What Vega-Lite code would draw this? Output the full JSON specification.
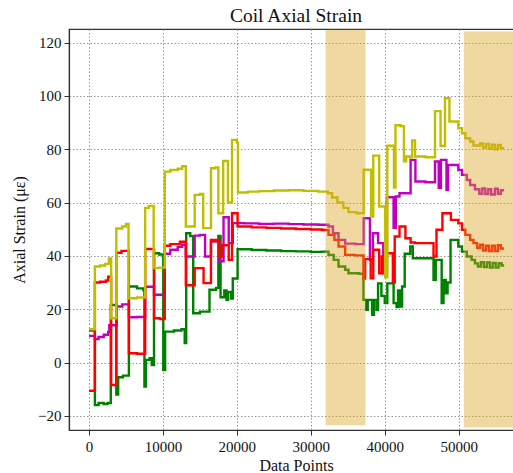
{
  "$schema": "https://vega.github.io/schema/vega-lite/v6.json",
  "autosize": {"type": "none"},
  "padding": {"left": 69, "top": 29, "right": -10, "bottom": 43},
  "width": 454,
  "height": 401,
  "background": "white",
  "title": {"text": "Coil Axial Strain", "font": "Liberation Serif", "fontSize": 19.5, "fontWeight": "normal", "color": "#111", "offset": 3},
  "config": {
    "view": {"stroke": "#333", "strokeWidth": 1.2},
    "axis": {
      "labelFont": "Liberation Serif", "labelFontSize": 15, "labelColor": "#111",
      "titleFont": "Liberation Serif", "titleFontSize": 16, "titleFontWeight": "normal", "titleColor": "#111",
      "domainColor": "#333", "domainWidth": 1.2, "tickColor": "#333", "tickSize": 5, "tickWidth": 1,
      "gridColor": "#8c8c8c", "gridDash": [1.5, 2], "gridWidth": 0.9
    }
  },
  "datasets": {
    "strain": [
      {"s": "G", "x": 0, "y": 12.0}, {"s": "G", "x": 800, "y": -15.9}, {"s": "G", "x": 1300, "y": -15.2}, {"s": "G", "x": 2000, "y": -15.6}, {"s": "G", "x": 2500, "y": -15.2},
      {"s": "G", "x": 2950, "y": 21.6}, {"s": "G", "x": 3700, "y": -12.0}, {"s": "G", "x": 3950, "y": -5.5}, {"s": "G", "x": 4600, "y": -4.9}, {"s": "G", "x": 5400, "y": 28.5},
      {"s": "G", "x": 6500, "y": 27.8}, {"s": "G", "x": 7350, "y": 27.2}, {"s": "G", "x": 7500, "y": -9.0}, {"s": "G", "x": 7700, "y": 1.0}, {"s": "G", "x": 8200, "y": 1.6},
      {"s": "G", "x": 8500, "y": -0.9}, {"s": "G", "x": 8800, "y": 41.0}, {"s": "G", "x": 9500, "y": 40.5}, {"s": "G", "x": 10050, "y": -2.8}, {"s": "G", "x": 10300, "y": 11.6},
      {"s": "G", "x": 11500, "y": 12.0}, {"s": "G", "x": 12500, "y": 12.5}, {"s": "G", "x": 12950, "y": 7.3}, {"s": "G", "x": 13150, "y": 48.5}, {"s": "G", "x": 13700, "y": 47.4},
      {"s": "G", "x": 14100, "y": 18.5}, {"s": "G", "x": 15000, "y": 19.1}, {"s": "G", "x": 16300, "y": 27.3}, {"s": "G", "x": 17200, "y": 28.0}, {"s": "G", "x": 17500, "y": 47.5},
      {"s": "G", "x": 17800, "y": 24.5}, {"s": "G", "x": 18300, "y": 27.0}, {"s": "G", "x": 18600, "y": 23.5}, {"s": "G", "x": 18800, "y": 26.5}, {"s": "G", "x": 19200, "y": 24.0},
      {"s": "G", "x": 19450, "y": 31.5}, {"s": "G", "x": 20100, "y": 42.5}, {"s": "G", "x": 22000, "y": 42.2}, {"s": "G", "x": 24000, "y": 42.0}, {"s": "G", "x": 26000, "y": 41.8},
      {"s": "G", "x": 28000, "y": 41.7}, {"s": "G", "x": 30000, "y": 41.5}, {"s": "G", "x": 31500, "y": 41.6}, {"s": "G", "x": 32400, "y": 40.4}, {"s": "G", "x": 33100, "y": 38.5},
      {"s": "G", "x": 33750, "y": 36.0}, {"s": "G", "x": 34650, "y": 34.8}, {"s": "G", "x": 35100, "y": 33.5}, {"s": "G", "x": 36500, "y": 33.3}, {"s": "G", "x": 37120, "y": 23.5},
      {"s": "G", "x": 37500, "y": 19.8}, {"s": "G", "x": 37700, "y": 23.5}, {"s": "G", "x": 38300, "y": 17.9}, {"s": "G", "x": 38550, "y": 23.5}, {"s": "G", "x": 38900, "y": 19.8},
      {"s": "G", "x": 39100, "y": 29.7}, {"s": "G", "x": 39550, "y": 25.0}, {"s": "G", "x": 40000, "y": 22.3}, {"s": "G", "x": 40350, "y": 29.7}, {"s": "G", "x": 41200, "y": 22.3},
      {"s": "G", "x": 41600, "y": 20.8}, {"s": "G", "x": 41800, "y": 27.0}, {"s": "G", "x": 42100, "y": 21.0}, {"s": "G", "x": 42350, "y": 28.5}, {"s": "G", "x": 42700, "y": 40.8},
      {"s": "G", "x": 43450, "y": 43.5}, {"s": "G", "x": 43800, "y": 39.1}, {"s": "G", "x": 46600, "y": 31.0}, {"s": "G", "x": 46900, "y": 38.5}, {"s": "G", "x": 47700, "y": 22.3},
      {"s": "G", "x": 47950, "y": 31.0}, {"s": "G", "x": 48250, "y": 26.0}, {"s": "G", "x": 48500, "y": 30.0}, {"s": "G", "x": 48900, "y": 46.0}, {"s": "G", "x": 49950, "y": 43.5},
      {"s": "G", "x": 50450, "y": 41.6}, {"s": "G", "x": 51100, "y": 39.8}, {"s": "G", "x": 51750, "y": 38.5}, {"s": "G", "x": 52200, "y": 37.2}, {"s": "G", "x": 52600, "y": 36.0},
      {"s": "G", "x": 53000, "y": 37.6}, {"s": "G", "x": 53400, "y": 35.8}, {"s": "G", "x": 53800, "y": 37.5}, {"s": "G", "x": 54200, "y": 35.6}, {"s": "G", "x": 54600, "y": 37.4},
      {"s": "G", "x": 55000, "y": 35.6}, {"s": "G", "x": 55400, "y": 37.3}, {"s": "G", "x": 55800, "y": 36.4}, {"s": "G", "x": 56150, "y": 36.4},

      {"s": "M", "x": 0, "y": 10.0}, {"s": "M", "x": 800, "y": 8.8}, {"s": "M", "x": 1300, "y": 9.6}, {"s": "M", "x": 2000, "y": 10.4}, {"s": "M", "x": 2600, "y": 11.5},
      {"s": "M", "x": 2750, "y": 14.0}, {"s": "M", "x": 3750, "y": 21.0}, {"s": "M", "x": 4500, "y": 21.8}, {"s": "M", "x": 5400, "y": 17.0}, {"s": "M", "x": 6500, "y": 17.1},
      {"s": "M", "x": 7600, "y": 28.4}, {"s": "M", "x": 8800, "y": 25.4}, {"s": "M", "x": 10250, "y": 40.8}, {"s": "M", "x": 11000, "y": 42.3}, {"s": "M", "x": 12000, "y": 43.4},
      {"s": "M", "x": 12600, "y": 44.2}, {"s": "M", "x": 13100, "y": 39.8}, {"s": "M", "x": 14300, "y": 47.6}, {"s": "M", "x": 15000, "y": 47.9}, {"s": "M", "x": 15700, "y": 39.8},
      {"s": "M", "x": 16500, "y": 45.4}, {"s": "M", "x": 17600, "y": 38.0}, {"s": "M", "x": 18200, "y": 54.5}, {"s": "M", "x": 18900, "y": 44.8}, {"s": "M", "x": 19450, "y": 52.3},
      {"s": "M", "x": 21000, "y": 52.2}, {"s": "M", "x": 23000, "y": 52.0}, {"s": "M", "x": 25000, "y": 52.1}, {"s": "M", "x": 27000, "y": 51.9}, {"s": "M", "x": 29000, "y": 51.8},
      {"s": "M", "x": 31000, "y": 51.7}, {"s": "M", "x": 32400, "y": 51.0}, {"s": "M", "x": 33000, "y": 48.5}, {"s": "M", "x": 33750, "y": 46.0}, {"s": "M", "x": 34650, "y": 44.6},
      {"s": "M", "x": 36000, "y": 44.4}, {"s": "M", "x": 37150, "y": 54.1}, {"s": "M", "x": 38000, "y": 38.5}, {"s": "M", "x": 38400, "y": 48.5}, {"s": "M", "x": 39100, "y": 44.8},
      {"s": "M", "x": 39800, "y": 33.5}, {"s": "M", "x": 40300, "y": 62.0}, {"s": "M", "x": 41200, "y": 50.5}, {"s": "M", "x": 41500, "y": 62.3}, {"s": "M", "x": 42000, "y": 63.5},
      {"s": "M", "x": 43500, "y": 76.0}, {"s": "M", "x": 44150, "y": 67.9}, {"s": "M", "x": 45500, "y": 67.6}, {"s": "M", "x": 46800, "y": 75.4}, {"s": "M", "x": 47300, "y": 65.5},
      {"s": "M", "x": 47600, "y": 76.0}, {"s": "M", "x": 48350, "y": 64.8}, {"s": "M", "x": 48550, "y": 74.1}, {"s": "M", "x": 49950, "y": 72.2}, {"s": "M", "x": 50450, "y": 70.4},
      {"s": "M", "x": 51100, "y": 68.5}, {"s": "M", "x": 51550, "y": 66.6}, {"s": "M", "x": 52200, "y": 65.0}, {"s": "M", "x": 52800, "y": 63.3}, {"s": "M", "x": 53200, "y": 65.3},
      {"s": "M", "x": 53600, "y": 63.2}, {"s": "M", "x": 54000, "y": 65.0}, {"s": "M", "x": 54400, "y": 63.0}, {"s": "M", "x": 54900, "y": 65.2}, {"s": "M", "x": 55300, "y": 63.3},
      {"s": "M", "x": 55700, "y": 64.6}, {"s": "M", "x": 56150, "y": 64.6},

      {"s": "R", "x": 0, "y": -10.6}, {"s": "R", "x": 800, "y": 30.0}, {"s": "R", "x": 1500, "y": 30.3}, {"s": "R", "x": 2300, "y": 30.8}, {"s": "R", "x": 2600, "y": 32.2},
      {"s": "R", "x": 3000, "y": -8.4}, {"s": "R", "x": 3700, "y": 41.2}, {"s": "R", "x": 4400, "y": 41.9}, {"s": "R", "x": 5400, "y": 3.5}, {"s": "R", "x": 6500, "y": 3.3},
      {"s": "R", "x": 7600, "y": 42.6}, {"s": "R", "x": 8800, "y": 16.6}, {"s": "R", "x": 9600, "y": 16.3}, {"s": "R", "x": 10250, "y": 43.8}, {"s": "R", "x": 11000, "y": 44.4},
      {"s": "R", "x": 12300, "y": 45.3}, {"s": "R", "x": 13100, "y": 29.0}, {"s": "R", "x": 14300, "y": 35.4}, {"s": "R", "x": 15500, "y": 29.8}, {"s": "R", "x": 16500, "y": 46.0},
      {"s": "R", "x": 17600, "y": 39.8}, {"s": "R", "x": 18000, "y": 44.0}, {"s": "R", "x": 18900, "y": 38.5}, {"s": "R", "x": 19350, "y": 56.0}, {"s": "R", "x": 20100, "y": 51.0},
      {"s": "R", "x": 22000, "y": 50.7}, {"s": "R", "x": 24000, "y": 50.5}, {"s": "R", "x": 26000, "y": 50.3}, {"s": "R", "x": 28000, "y": 50.1}, {"s": "R", "x": 30000, "y": 49.9},
      {"s": "R", "x": 31500, "y": 49.7}, {"s": "R", "x": 32400, "y": 47.9}, {"s": "R", "x": 33200, "y": 46.0}, {"s": "R", "x": 33750, "y": 43.5}, {"s": "R", "x": 34650, "y": 40.4},
      {"s": "R", "x": 36000, "y": 40.2}, {"s": "R", "x": 37120, "y": 31.5}, {"s": "R", "x": 37350, "y": 38.8}, {"s": "R", "x": 38100, "y": 31.6}, {"s": "R", "x": 38450, "y": 42.3},
      {"s": "R", "x": 39250, "y": 33.5}, {"s": "R", "x": 39600, "y": 39.8}, {"s": "R", "x": 40300, "y": 41.0}, {"s": "R", "x": 41100, "y": 30.0}, {"s": "R", "x": 41350, "y": 47.3},
      {"s": "R", "x": 42000, "y": 51.0}, {"s": "R", "x": 42800, "y": 46.6}, {"s": "R", "x": 43500, "y": 45.0}, {"s": "R", "x": 44100, "y": 44.8}, {"s": "R", "x": 46600, "y": 39.8},
      {"s": "R", "x": 47000, "y": 49.8}, {"s": "R", "x": 47800, "y": 56.0}, {"s": "R", "x": 48950, "y": 53.5}, {"s": "R", "x": 49950, "y": 52.2}, {"s": "R", "x": 50450, "y": 49.8},
      {"s": "R", "x": 50900, "y": 47.9}, {"s": "R", "x": 51550, "y": 46.0}, {"s": "R", "x": 52000, "y": 44.8}, {"s": "R", "x": 52500, "y": 43.0}, {"s": "R", "x": 52900, "y": 44.2},
      {"s": "R", "x": 53300, "y": 42.0}, {"s": "R", "x": 53700, "y": 43.8}, {"s": "R", "x": 54100, "y": 41.8}, {"s": "R", "x": 54500, "y": 43.8}, {"s": "R", "x": 54900, "y": 41.8},
      {"s": "R", "x": 55300, "y": 44.0}, {"s": "R", "x": 55700, "y": 42.8}, {"s": "R", "x": 56150, "y": 42.8},

      {"s": "Y", "x": 0, "y": 12.5}, {"s": "Y", "x": 800, "y": 36.0}, {"s": "Y", "x": 1500, "y": 36.4}, {"s": "Y", "x": 2200, "y": 37.0}, {"s": "Y", "x": 2700, "y": 39.0},
      {"s": "Y", "x": 3000, "y": 16.6}, {"s": "Y", "x": 3700, "y": 50.3}, {"s": "Y", "x": 4500, "y": 51.0}, {"s": "Y", "x": 5000, "y": 52.0}, {"s": "Y", "x": 5350, "y": 24.1},
      {"s": "Y", "x": 6500, "y": 24.4}, {"s": "Y", "x": 7600, "y": 58.0}, {"s": "Y", "x": 8100, "y": 58.7}, {"s": "Y", "x": 8750, "y": 35.4}, {"s": "Y", "x": 9500, "y": 35.6},
      {"s": "Y", "x": 10250, "y": 71.6}, {"s": "Y", "x": 11000, "y": 72.2}, {"s": "Y", "x": 12000, "y": 72.7}, {"s": "Y", "x": 12600, "y": 73.6}, {"s": "Y", "x": 13100, "y": 51.0},
      {"s": "Y", "x": 14300, "y": 62.9}, {"s": "Y", "x": 15000, "y": 63.2}, {"s": "Y", "x": 15450, "y": 50.4}, {"s": "Y", "x": 16500, "y": 72.9}, {"s": "Y", "x": 17100, "y": 73.2},
      {"s": "Y", "x": 17500, "y": 56.0}, {"s": "Y", "x": 18150, "y": 75.6}, {"s": "Y", "x": 18800, "y": 60.0}, {"s": "Y", "x": 19350, "y": 83.5}, {"s": "Y", "x": 20000, "y": 82.5},
      {"s": "Y", "x": 20150, "y": 63.8}, {"s": "Y", "x": 21500, "y": 64.1}, {"s": "Y", "x": 23000, "y": 64.3}, {"s": "Y", "x": 25000, "y": 64.5}, {"s": "Y", "x": 27000, "y": 64.6},
      {"s": "Y", "x": 29000, "y": 64.4}, {"s": "Y", "x": 31000, "y": 64.1}, {"s": "Y", "x": 32300, "y": 63.5}, {"s": "Y", "x": 32900, "y": 61.9}, {"s": "Y", "x": 33600, "y": 60.0},
      {"s": "Y", "x": 34400, "y": 58.0}, {"s": "Y", "x": 35100, "y": 56.4}, {"s": "Y", "x": 36200, "y": 56.0}, {"s": "Y", "x": 37150, "y": 72.3}, {"s": "Y", "x": 38150, "y": 54.8},
      {"s": "Y", "x": 38450, "y": 77.6}, {"s": "Y", "x": 39250, "y": 58.5}, {"s": "Y", "x": 40050, "y": 32.0}, {"s": "Y", "x": 40350, "y": 81.3}, {"s": "Y", "x": 41250, "y": 65.6},
      {"s": "Y", "x": 41450, "y": 89.0}, {"s": "Y", "x": 42150, "y": 88.6}, {"s": "Y", "x": 42600, "y": 75.5}, {"s": "Y", "x": 42900, "y": 77.3}, {"s": "Y", "x": 43400, "y": 77.0},
      {"s": "Y", "x": 43700, "y": 83.3}, {"s": "Y", "x": 44100, "y": 77.3}, {"s": "Y", "x": 45500, "y": 77.0}, {"s": "Y", "x": 46800, "y": 94.3}, {"s": "Y", "x": 47550, "y": 81.2},
      {"s": "Y", "x": 48150, "y": 99.1}, {"s": "Y", "x": 48750, "y": 90.4}, {"s": "Y", "x": 49950, "y": 87.9}, {"s": "Y", "x": 50450, "y": 86.0}, {"s": "Y", "x": 50900, "y": 84.1},
      {"s": "Y", "x": 51550, "y": 82.9}, {"s": "Y", "x": 52000, "y": 81.4}, {"s": "Y", "x": 52900, "y": 82.2}, {"s": "Y", "x": 53300, "y": 80.6}, {"s": "Y", "x": 53700, "y": 82.0},
      {"s": "Y", "x": 54100, "y": 80.2}, {"s": "Y", "x": 54500, "y": 81.7}, {"s": "Y", "x": 54900, "y": 80.0}, {"s": "Y", "x": 55300, "y": 81.6}, {"s": "Y", "x": 55700, "y": 80.4},
      {"s": "Y", "x": 56150, "y": 80.4}
    ],
    "spans": [
      {"x": 32000, "xe": 37400, "y": -23.5, "ye": 124.8},
      {"x": 50700, "xe": 58700, "y": -24.3, "ye": 124.2}
    ]
  },
  "encoding": {
    "x": {"field": "x", "type": "quantitative", "scale": {"domain": [-2700, 58700], "nice": false, "zero": false},
          "axis": {"title": "Data Points", "values": [0, 10000, 20000, 30000, 40000, 50000], "format": "d", "labelPadding": 4, "titlePadding": 3}},
    "y": {"field": "y", "type": "quantitative", "scale": {"domain": [-25.3, 125.1], "nice": false, "zero": false},
          "axis": {"title": "Axial Strain (με)", "values": [-20, 0, 20, 40, 60, 80, 100, 120], "labelPadding": 3, "titlePadding": 10}}
  },
  "layer": [
    {
      "data": {"name": "strain"},
      "transform": [{"filter": "datum.s === 'G'"}],
      "mark": {"type": "line", "interpolate": "step-after", "color": "#008000", "strokeWidth": 2.4}
    },
    {
      "data": {"name": "strain"},
      "transform": [{"filter": "datum.s === 'M'"}],
      "mark": {"type": "line", "interpolate": "step-after", "color": "#bf00bf", "strokeWidth": 2.4}
    },
    {
      "data": {"name": "strain"},
      "transform": [{"filter": "datum.s === 'R'"}],
      "mark": {"type": "line", "interpolate": "step-after", "color": "#ff0000", "strokeWidth": 2.4}
    },
    {
      "data": {"name": "strain"},
      "transform": [{"filter": "datum.s === 'Y'"}],
      "mark": {"type": "line", "interpolate": "step-after", "color": "#bfbf00", "strokeWidth": 2.4}
    },
    {
      "data": {"name": "spans"},
      "mark": {"type": "rect", "color": "#daa520", "opacity": 0.42},
      "encoding": {
        "x2": {"field": "xe"},
        "y2": {"field": "ye"}
      }
    }
  ]
}
